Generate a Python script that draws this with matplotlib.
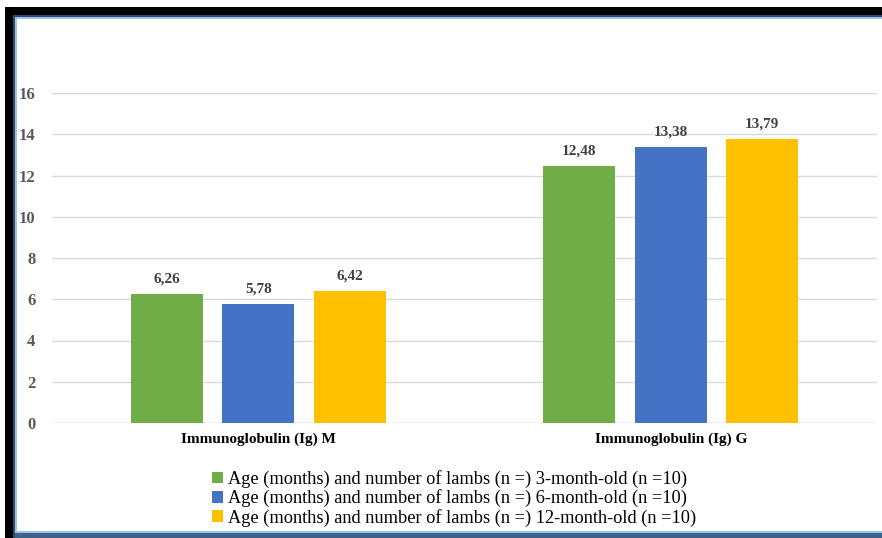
import matplotlib.pyplot as plt
from matplotlib.patches import Rectangle
import numpy as np

plt.rcParams['font.family'] = ['Liberation Serif', 'DejaVu Serif']

categories = ["Immunoglobulin (Ig) M", "Immunoglobulin (Ig) G"]
series_names = [
    "Age (months) and number of lambs (n =) 3-month-old (n =10)",
    "Age (months) and number of lambs (n =) 6-month-old (n =10)",
    "Age (months) and number of lambs (n =) 12-month-old (n =10)",
]
values_3m = [6.26, 12.48]
values_6m = [5.78, 13.38]
values_12m = [6.42, 13.79]
colors = ["#70ad47", "#4472c4", "#ffc000"]

W, H = 882, 538
fig = plt.figure(figsize=(W / 100, H / 100), dpi=100)

# frame around the chart area
def px_rect(x0, y0, x1, y1, color):
    fig.patches.append(Rectangle((x0 / W, 1 - y1 / H), (x1 - x0) / W, (y1 - y0) / H,
                                 transform=fig.transFigure, color=color, lw=0, zorder=0))

px_rect(5, 7, W, 15, "#000000")
px_rect(5, 15, W, 17, "#2a4a6a")
px_rect(5, 17, W, 19, "#9dc3e6")
px_rect(5, 7, 13, 538, "#000000")
px_rect(13, 17, 15, 538, "#2a4a6a")
px_rect(15, 17, 17, 538, "#9dc3e6")
px_rect(15, 531, W, 533, "#9dc3e6")
px_rect(15, 533, W, 538, "#3d6286")

ax = fig.add_axes([52 / W, 1 - 423 / H, (877 - 52) / W, (423 - 93) / H])
x = np.arange(len(categories))
width = 0.175
offset = 0.222

for i, (vals, name) in enumerate(zip([values_3m, values_6m, values_12m], series_names)):
    bars = ax.bar(x + (i - 1) * offset, vals, width, color=colors[i], label=name, zorder=3)
    for b, v in zip(bars, vals):
        ax.text(b.get_x() + b.get_width() / 2, v + 0.4, f"{v:.2f}".replace(".", ","),
                ha="center", va="bottom", fontsize=11, fontweight="bold", color="#404040")

ax.set_xlim(-0.5, 1.5)
ax.set_ylim(0, 16)
ax.set_yticks(range(0, 17, 2))
ax.set_xticks(x)
ax.set_xticklabels(categories, fontsize=11, fontweight="bold", color="#000000")
ax.tick_params(axis="y", length=0, pad=12, labelsize=12, labelcolor="#595959")
ax.tick_params(axis="x", length=0, pad=7)
for lbl in ax.get_yticklabels():
    lbl.set_fontweight("bold")
ax.yaxis.grid(True, color="#d9d9d9", lw=1, zorder=0)
for s in ax.spines.values():
    s.set_visible(False)
ax.axhline(0, color="#d9d9d9", lw=1, zorder=2)

leg = fig.legend(loc="upper left", bbox_to_anchor=(212 / W, 1 - 470 / H), frameon=False,
                 fontsize=13.2, handlelength=0.6, handleheight=0.6, handletextpad=0.3,
                 labelspacing=0.08, borderaxespad=0, borderpad=0)

fig.savefig("out.png", dpi=100, facecolor="white")
